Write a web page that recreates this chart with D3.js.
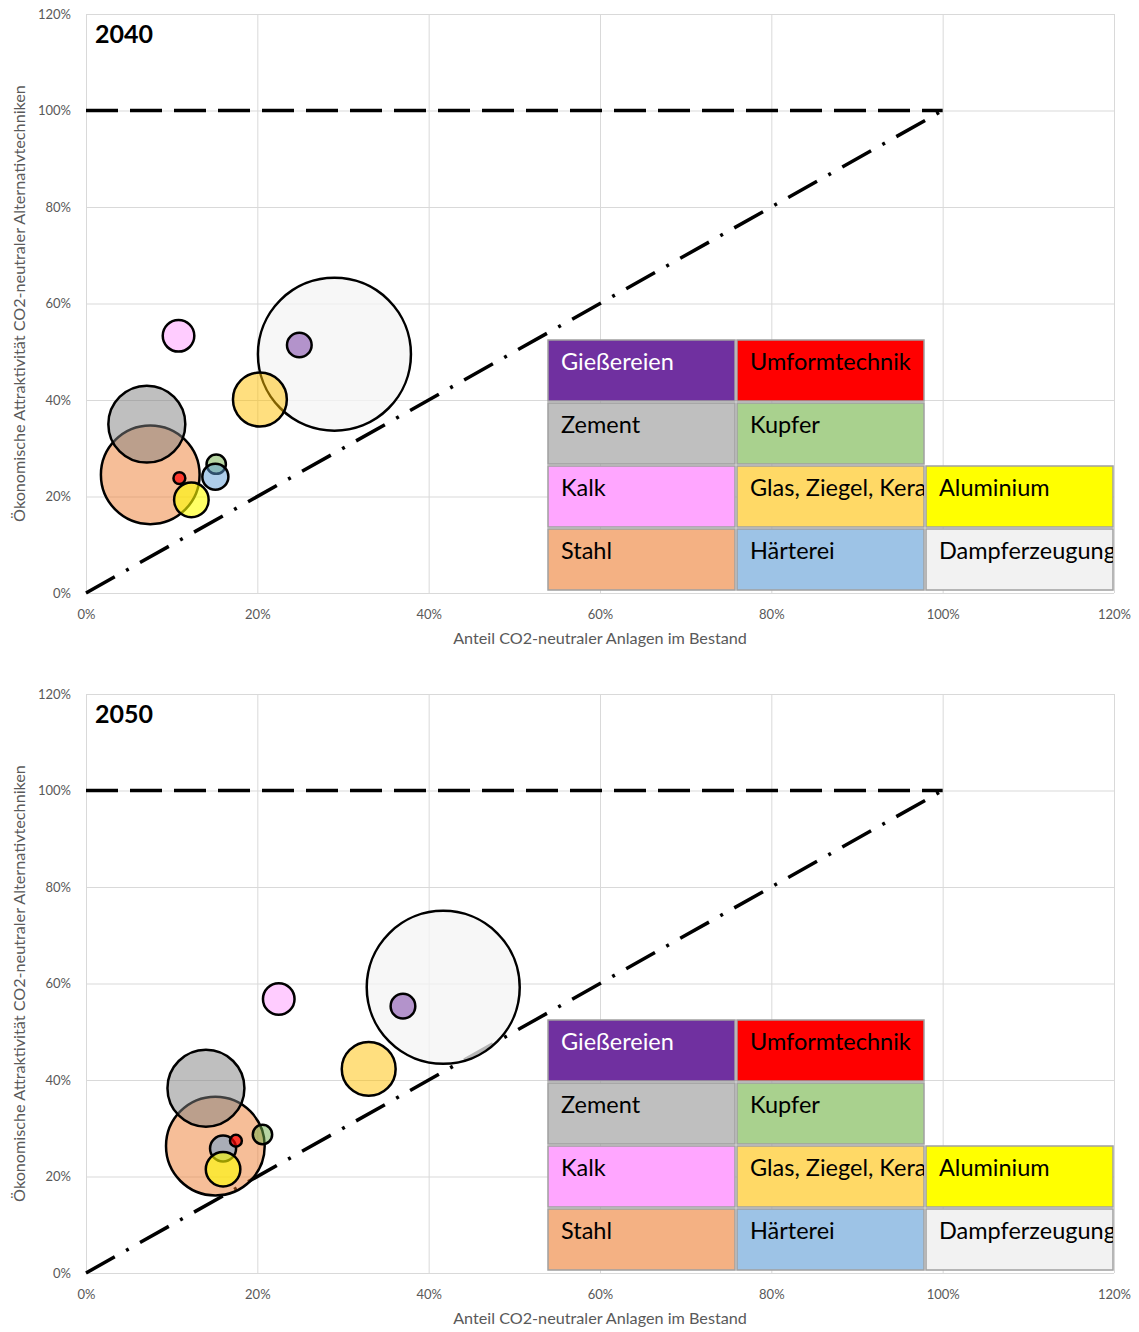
<!DOCTYPE html>
<html><head><meta charset="utf-8">
<script src="https://cdn.jsdelivr.net/npm/d3@7"></script>
<style>body{margin:0;background:#fff} text{font-family:Lato, "Open Sans", sans-serif}</style>
</head><body><svg id="c" width="1139" height="1332"></svg>
<script>
// ---- data ----
const categories = ["Dampferzeugung","Stahl","Zement","Glas, Ziegel, Keramik","Kalk","Gießereien","Kupfer","Härterei","Umformtechnik","Aluminium"];
const sizes = [100, 41.6, 25.3, 12.4, 4.26, 2.6, 1.6, 2.9, 0.6, 5.1];
const x2040 = [29.0, 7.5, 7.1, 20.3, 10.8, 24.9, 15.2, 15.1, 10.9, 12.3];
const y2040 = [49.5, 24.5, 35.0, 40.1, 53.3, 51.4, 26.7, 24.1, 23.8, 19.3];
const x2050 = [41.7, 15.1, 14.0, 33.0, 22.5, 37.0, 20.6, 16.0, 17.5, 16.0];
const y2050 = [59.2, 26.3, 38.3, 42.3, 56.8, 55.3, 28.7, 25.8, 27.4, 21.5];
const xTicks = [0,20,40,60,80,100,120];
const yTicks = [0,20,40,60,80,100,120];
const legendRows = [["Gießereien","Umformtechnik",null],["Zement","Kupfer",null],["Kalk","Glas, Ziegel, Keramik","Aluminium"],["Stahl","Härterei","Dampferzeugung"]];
const years = ["2040","2050"];
const xTitle = "Anteil CO2-neutraler Anlagen im Bestand";
const yTitle = "Ökonomische Attraktivität CO2-neutraler Alternativtechniken";

// ---- styles ----
const bubbleFill = {"Dampferzeugung":["#f4f4f4",0.75],"Stahl":["#ed7d31",0.5],"Zement":["#808080",0.5],"Glas, Ziegel, Keramik":["#ffc000",0.5],"Kalk":["#ff99ff",0.5],"Gießereien":["#7030a0",0.5],"Kupfer":["#70ad47",0.5],"Härterei":["#5b9bd5",0.5],"Umformtechnik":["#ff0000",0.7],"Aluminium":["#ffff00",0.6]};
const legendFill = {"Gießereien":"#7030a0","Umformtechnik":"#ff0000","Zement":"#bfbfbf","Kupfer":"#a9d18e","Kalk":"#ffa6ff","Glas, Ziegel, Keramik":"#ffd966","Aluminium":"#ffff00","Stahl":"#f4b183","Härterei":"#9dc3e6","Dampferzeugung":"#f2f2f2"};

const svg = d3.select("#c");
svg.append("rect").attr("width",1139).attr("height",1332).attr("fill","#fff");
const L = 86, R = 1114;
const tops = [14, 694], H = 579;
const r = d3.scaleSqrt().domain([0,100]).range([0,76.5]);
const xsAll = [x2040, x2050], ysAll = [y2040, y2050];

years.forEach((yr, k) => {
  const top = tops[k], bot = top + H;
  const x = d3.scaleLinear().domain([0,120]).range([L,R]);
  const y = d3.scaleLinear().domain([0,120]).range([bot,top]);
  const g = svg.append("g");

  const ya = g.append("g").attr("transform",`translate(${L},0)`)
    .call(d3.axisLeft(y).tickValues(yTicks).tickFormat(d=>d+"%").tickSize(-(R-L)).tickPadding(15));
  const xa = g.append("g").attr("transform",`translate(0,${bot})`)
    .call(d3.axisBottom(x).tickValues(xTicks).tickFormat(d=>d+"%").tickSize(-H).tickPadding(17));
  [ya,xa].forEach(a=>{
    a.select(".domain").remove();
    a.selectAll("line").attr("stroke","#d9d9d9").attr("stroke-width",1);
    a.selectAll("text").attr("fill","#595959").attr("font-size",13).style("font-family","Lato, sans-serif");
  });

  // reference lines
  const line = d3.line().x(d=>x(d[0])).y(d=>y(d[1]));
  g.append("path").attr("d", line([[0,100],[100,100]])).attr("fill","none")
    .attr("stroke","#000").attr("stroke-width",3.5).attr("stroke-dasharray","32,12");
  g.append("path").attr("d", line([[0,0],[100,100]])).attr("fill","none")
    .attr("stroke","#000").attr("stroke-width",3.5).attr("stroke-dasharray","33,13,3,13");

  // bubbles
  const xs = xsAll[k], ys = ysAll[k];
  const data = categories.map((c,i)=>({c, x:xs[i], y:ys[i], s:sizes[i]}));
  g.append("g").selectAll("circle").data(data).join("circle")
    .attr("cx",d=>x(d.x)).attr("cy",d=>y(d.y)).attr("r",d=>r(d.s))
    .attr("fill",d=>bubbleFill[d.c][0]).attr("fill-opacity",d=>bubbleFill[d.c][1])
    .attr("stroke","#000").attr("stroke-width",2.5);

  // title
  g.append("text").attr("x",95).attr("y",top+28.5).text(yr)
    .attr("font-size",25).attr("font-weight","bold").attr("fill","#000");

  // legend boxes
  const colX = [548, 737, 926], rowY = [326, 389, 452, 515], bw = 187, bh = 61;
  legendRows.forEach((row, ri) => row.forEach((name, ci) => {
    if (!name) return;
    const bx = colX[ci], by = top + rowY[ri];
    const id = `clip${k}_${ri}_${ci}`;
    g.append("clipPath").attr("id",id).append("rect").attr("x",bx).attr("y",by).attr("width",bw).attr("height",bh);
    g.append("rect").attr("x",bx).attr("y",by).attr("width",bw).attr("height",bh)
      .attr("fill",legendFill[name]).attr("stroke","#a0a0a0").attr("stroke-width",1.5);
    g.append("text").attr("clip-path",`url(#${id})`).attr("x",bx+13).attr("y",by+30)
      .attr("font-size",23.5).attr("fill", name==="Gießereien" ? "#fff" : "#000").text(name);
  }));

  // axis titles
  g.append("text").attr("x",(L+R)/2).attr("y",bot+51).attr("text-anchor","middle")
    .attr("font-size",16.2).attr("fill","#595959").text(xTitle);
  g.append("text").attr("transform",`translate(25,${(top+bot)/2}) rotate(-90)`).attr("text-anchor","middle")
    .attr("font-size",16.2).attr("fill","#595959").text(yTitle);
});
</script></body></html>
